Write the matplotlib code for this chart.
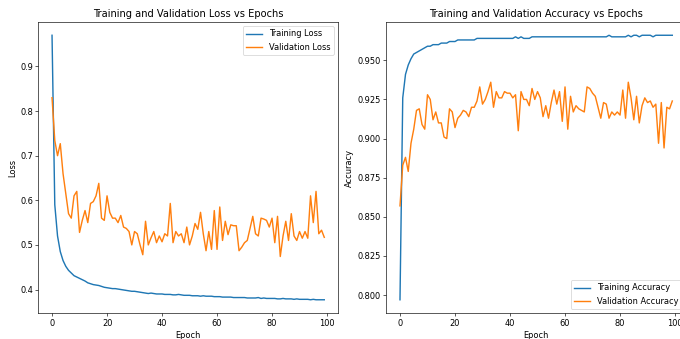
import numpy as np
import matplotlib
matplotlib.use("Agg")
import matplotlib.pyplot as plt

epochs = list(range(100))

train_loss = [
    0.970, 0.590, 0.520, 0.485, 0.465, 0.452, 0.443, 0.437, 0.431, 0.428,
    0.425, 0.422, 0.419, 0.415, 0.413, 0.411, 0.410, 0.409, 0.407, 0.405,
    0.404, 0.403, 0.402, 0.402, 0.401, 0.400, 0.399, 0.398, 0.397, 0.396,
    0.396, 0.395, 0.394, 0.393, 0.392, 0.391, 0.392, 0.391, 0.390, 0.390,
    0.390, 0.389, 0.389, 0.389, 0.388, 0.388, 0.389, 0.388, 0.387, 0.387,
    0.387, 0.386, 0.386, 0.386, 0.385, 0.386, 0.385, 0.385, 0.385, 0.384,
    0.384, 0.384, 0.383, 0.383, 0.383, 0.383, 0.382, 0.382, 0.382, 0.382,
    0.382, 0.381, 0.381, 0.381, 0.381, 0.382, 0.380, 0.381, 0.380, 0.380,
    0.380, 0.380, 0.379, 0.379, 0.380, 0.379, 0.379, 0.379, 0.378, 0.379,
    0.378, 0.378, 0.378, 0.378, 0.377, 0.378, 0.377, 0.377, 0.377, 0.377,
]

val_loss = [
    0.830, 0.734, 0.700, 0.727, 0.660, 0.615, 0.570, 0.560, 0.610, 0.620,
    0.528, 0.555, 0.577, 0.550, 0.593, 0.597, 0.610, 0.638, 0.560, 0.555,
    0.610, 0.573, 0.560, 0.560, 0.550, 0.566, 0.540, 0.537, 0.530, 0.500,
    0.530, 0.525, 0.500, 0.478, 0.553, 0.500, 0.516, 0.530, 0.505, 0.520,
    0.507, 0.525, 0.520, 0.593, 0.505, 0.530, 0.520, 0.525, 0.505, 0.540,
    0.500, 0.520, 0.548, 0.535, 0.573, 0.525, 0.487, 0.530, 0.490, 0.577,
    0.490, 0.585, 0.510, 0.553, 0.523, 0.545, 0.543, 0.543, 0.487, 0.495,
    0.505, 0.510, 0.537, 0.564, 0.525, 0.520, 0.560, 0.558, 0.555, 0.540,
    0.560, 0.505, 0.564, 0.474, 0.520, 0.553, 0.510, 0.570, 0.520, 0.510,
    0.530, 0.515, 0.530, 0.515, 0.610, 0.550, 0.620, 0.525, 0.533, 0.517,
]

train_acc = [
    0.797, 0.926, 0.941, 0.947, 0.951, 0.954, 0.955, 0.956, 0.957, 0.958,
    0.959, 0.959, 0.960, 0.960, 0.960, 0.961, 0.961, 0.961, 0.962, 0.962,
    0.962, 0.963, 0.963, 0.963, 0.963, 0.963, 0.963, 0.963, 0.964, 0.964,
    0.964, 0.964, 0.964, 0.964, 0.964, 0.964, 0.964, 0.964, 0.964, 0.964,
    0.964, 0.964, 0.965, 0.964, 0.965, 0.964, 0.964, 0.964, 0.965, 0.965,
    0.965, 0.965, 0.965, 0.965, 0.965, 0.965, 0.965, 0.965, 0.965, 0.965,
    0.965, 0.965, 0.965, 0.965, 0.965, 0.965, 0.965, 0.965, 0.965, 0.965,
    0.965, 0.965, 0.965, 0.965, 0.965, 0.965, 0.966, 0.965, 0.965, 0.965,
    0.965, 0.965, 0.965, 0.966, 0.965, 0.966, 0.966, 0.965, 0.966, 0.966,
    0.966, 0.966, 0.965, 0.966, 0.966, 0.966, 0.966, 0.966, 0.966, 0.966,
]

val_acc = [
    0.857, 0.883, 0.888, 0.879, 0.897, 0.906, 0.918, 0.919, 0.909, 0.906,
    0.928, 0.925, 0.912, 0.917, 0.910, 0.910, 0.901, 0.900, 0.919, 0.917,
    0.907, 0.913, 0.915, 0.918, 0.917, 0.914, 0.920, 0.920, 0.924, 0.933,
    0.922, 0.925, 0.930, 0.936, 0.920, 0.930, 0.926, 0.926, 0.930, 0.929,
    0.929, 0.926, 0.928, 0.905, 0.930, 0.925, 0.925, 0.921, 0.932, 0.925,
    0.930, 0.926, 0.914, 0.921, 0.913, 0.923, 0.931, 0.922, 0.930, 0.911,
    0.933, 0.906, 0.927, 0.917, 0.921, 0.919, 0.918, 0.917, 0.933, 0.932,
    0.929, 0.927, 0.920, 0.913, 0.923, 0.922, 0.913, 0.917, 0.915, 0.917,
    0.915, 0.931, 0.913, 0.936, 0.926, 0.912, 0.927, 0.910, 0.921, 0.926,
    0.923, 0.924, 0.920, 0.922, 0.897, 0.923, 0.894, 0.920, 0.919, 0.924,
]

plt.rcParams['font.size'] = 10.5
plt.rcParams['lines.linewidth'] = 1.8

dpi = 680 / 12
fig = plt.figure(figsize=(12, 339 / dpi), dpi=dpi)

# axes placed to match the reference (right panel runs off the edge)
ax1 = fig.add_axes([0.0565, 0.0767, 0.4404, 0.8583])
ax2 = fig.add_axes([0.5682, 0.0767, 0.4405, 0.8583])

# loss
ax1.plot(epochs, train_loss, label="Training Loss")
ax1.plot(epochs, val_loss, label="Validation Loss")
ax1.set_title("Training and Validation Loss vs Epochs")
ax1.set_xlabel("Epoch")
ax1.set_ylabel("Loss")
ax1.legend()

# accuracy
ax2.plot(epochs, train_acc, label="Training Accuracy")
ax2.plot(epochs, val_acc, label="Validation Accuracy")
ax2.set_title("Training and Validation Accuracy vs Epochs")
ax2.set_xlabel("Epoch")
ax2.set_ylabel("Accuracy")
ax2.legend()

fig.savefig("out.png", dpi=dpi)
